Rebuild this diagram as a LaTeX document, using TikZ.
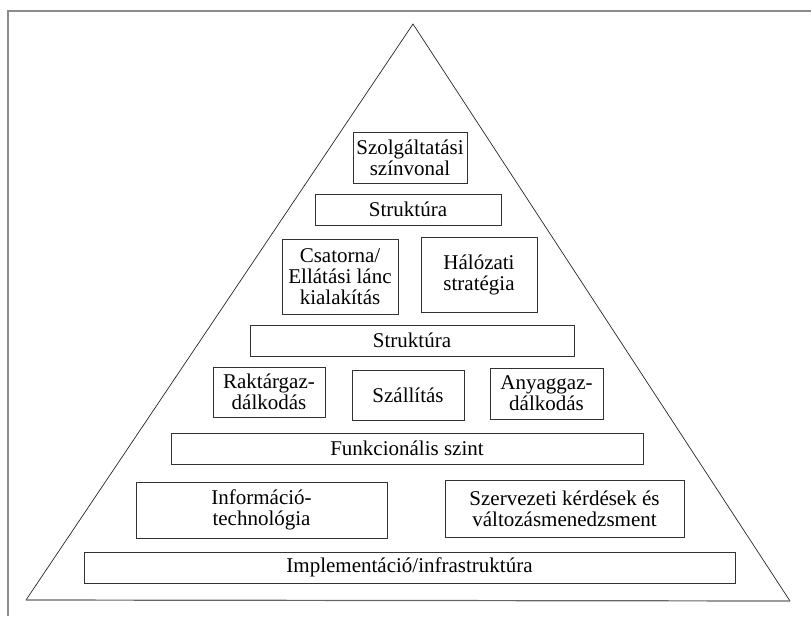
\documentclass[tikz,border=0pt]{standalone}
\usepackage{fontspec}
\setmainfont{Liberation Serif}
\usepackage{tikz}
\usetikzlibrary{positioning}

\tikzset{
  level/.style={draw=black!80, line width=0.8pt, inner sep=0pt, align=center,
                font=\rmfamily\fontsize{21}{21}\selectfont},
  frameline/.style={draw=black!45, line width=1.4pt},
}

\begin{document}
\begin{tikzpicture}[x=1pt,y=-1pt]
    \useasboundingbox (0,0) rectangle (811,616);
    % frame and pyramid
    \draw[frameline] (811,11) -- (8,11) -- (8,616);
    \coordinate (top) at (413,24);
    \coordinate (right) at (790,601);
    \coordinate (left) at (26,600);
    \draw[black!85, line width=0.7pt] (left) -- (top) -- (right);
    \draw[black!60, line width=1.2pt] (left) -- (right);

    \node[level, minimum width=114, minimum height=51] (szolg) at (410,157.5) {Szolgáltatási\\színvonal};
    \node[level, minimum width=186, minimum height=31] (strukt1) at (408,209.5) {Struktúra};
    \node[level, minimum width=116, minimum height=75] (csat) at (340,276.5) {Csatorna/\\Ellátási lánc\\kialakítás};
    \node[level, minimum width=116, minimum height=75] (halo) at (479,274.5) {Hálózati\\stratégia};
    \node[level, minimum width=324, minimum height=31] (strukt2) at (412,340.5) {Struktúra};
    \node[level, minimum width=112, minimum height=50] (rakt) at (269,392) {Raktárgaz-\\dálkodás};
    \node[level, minimum width=112, minimum height=50] (szall) at (408,395) {Szállítás};
    \node[level, minimum width=113, minimum height=51] (anyag) at (546.5,393.5) {Anyaggaz-\\dálkodás};
    \node[level, minimum width=472, minimum height=31] (funk) at (407,448.5) {Funkcionális szint};
    \node[level, minimum width=251, minimum height=56] (info) at (261.5,510) {Információ-\\technológia};
    \node[level, minimum width=239, minimum height=57] (szerv) at (564.5,508.5) {Szervezeti kérdések és\\változásmenedzsment};
    \node[level, minimum width=651, minimum height=31] (impl) at (409.5,567.5) {Implementáció/infrastruktúra};
\end{tikzpicture}
\end{document}
